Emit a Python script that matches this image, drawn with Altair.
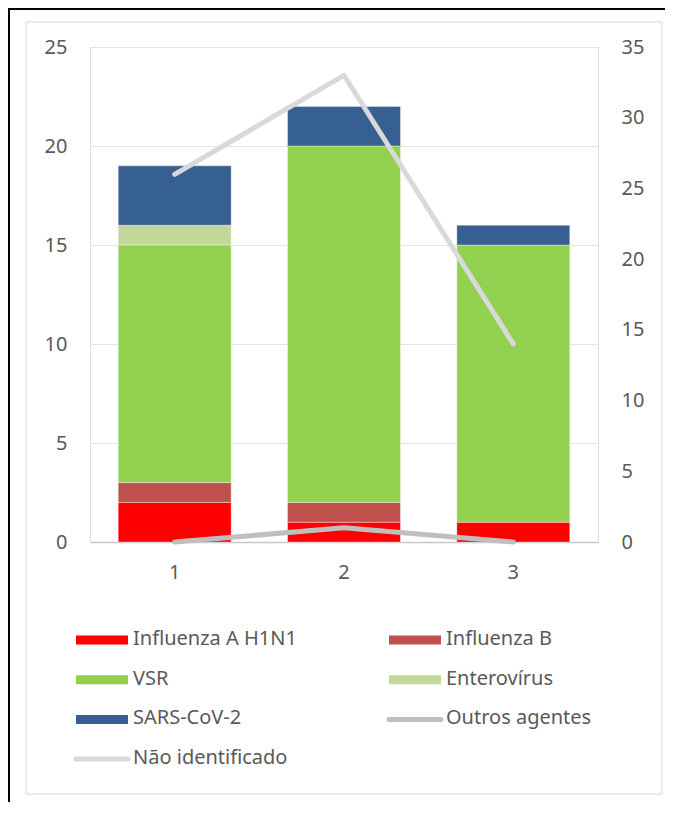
import altair as alt
import pandas as pd

# ---------------- data ----------------
periodos = ["1", "2", "3"]

series_barras = ["Influenza A H1N1", "Influenza B", "VSR", "Enterovírus", "SARS-CoV-2"]
influenza_a_h1n1 = [2, 1, 1]
influenza_b = [1, 1, 0]
vsr = [12, 18, 14]
enterovirus = [1, 0, 0]
sars_cov_2 = [3, 2, 1]

series_linhas = ["Outros agentes", "Não identificado"]
outros_agentes = [0, 1, 0]
nao_identificado = [26, 33, 14]

todas_series = series_barras + series_linhas
cores = ["#ff0000", "#c0504d", "#92d050", "#c4d79b", "#376092", "#bfbfbf", "#d9d9d9"]

ticks_esq = [0, 5, 10, 15, 20, 25]
ticks_dir = [0, 5, 10, 15, 20, 25, 30, 35]

# ---------------- tables ----------------
valores_barras = [influenza_a_h1n1, influenza_b, vsr, enterovirus, sars_cov_2]
rows = []
for k, (s, vals) in enumerate(zip(series_barras, valores_barras)):
    for p, v in zip(periodos, vals):
        rows.append({"periodo": p, "serie": s, "valor": v, "ordem": k})
df_barras = pd.DataFrame(rows)

valores_linhas = [outros_agentes, nao_identificado]
rows = []
for s, vals in zip(series_linhas, valores_linhas):
    for p, v in zip(periodos, vals):
        rows.append({"periodo": p, "serie": s, "valor": v})
df_linhas = pd.DataFrame(rows)

df_legenda = pd.DataFrame({
    "serie": todas_series,
    "idx": list(range(len(todas_series))),
    "tipo": ["barra" if s in series_barras else "linha" for s in todas_series],
})

TXT = "#595959"
FONT = "Noto Sans"
color_scale = alt.Scale(domain=todas_series, range=cores)

# ---------------- chart layers ----------------
bars = alt.Chart(df_barras).transform_filter("datum.valor > 0").mark_bar(
    stroke="white", strokeWidth=0.6, strokeOpacity=0.6
).encode(
    x=alt.X("periodo:N", sort=periodos, title=None,
            scale=alt.Scale(paddingInner=0.333, paddingOuter=0.1667),
            axis=alt.Axis(labelAngle=0, ticks=False, domain=True, domainColor="#c8c8c8",
                          domainWidth=1.5, labelPadding=20, labelFontSize=20,
                          labelColor=TXT, labelFont=FONT, grid=False)),
    y=alt.Y("valor:Q", stack="zero", title=None,
            scale=alt.Scale(domain=[0, 25], nice=False),
            axis=alt.Axis(values=ticks_esq, grid=True, gridColor="#e4e4e4", gridWidth=1,
                          domain=False, ticks=False, labelPadding=23, labelFontSize=20,
                          labelColor=TXT, labelFont=FONT)),
    color=alt.Color("serie:N", scale=color_scale, legend=None),
    order=alt.Order("ordem:Q", sort="ascending"),
)

lines = alt.Chart(df_linhas).mark_line(strokeWidth=5, strokeCap="round", strokeJoin="round").encode(
    x=alt.X("periodo:N", sort=periodos, title=None),
    y=alt.Y("valor:Q", title=None,
            scale=alt.Scale(domain=[0, 35], nice=False),
            axis=alt.Axis(orient="right", values=ticks_dir, grid=False, domain=False,
                          ticks=False, labelPadding=23, labelFontSize=20,
                          labelColor=TXT, labelFont=FONT)),
    color=alt.Color("serie:N", scale=color_scale, legend=None),
)

one = alt.Data(values=[{}])
inner_border = alt.Chart(one).mark_rect(fillOpacity=0, stroke="#d9d9d9", strokeWidth=1).encode(
    x=alt.value(-64), x2=alt.value(572), y=alt.value(-25), y2=alt.value(747)
)
# outer black frame: only its left and top edges fall inside the picture
black_frame = alt.Chart(one).mark_rect(fillOpacity=0, stroke="black", strokeWidth=2).encode(
    x=alt.value(-81), x2=alt.value(700), y=alt.value(-38), y2=alt.value(900)
)

leg_base = alt.Chart(df_legenda).transform_calculate(
    col="datum.idx % 2",
    row="floor(datum.idx / 2)",
).transform_calculate(
    lx="datum.col == 0 ? -14 : 299",
    ly="593 + datum.row * 39.7",
).transform_calculate(
    lx2="datum.lx + 52",
    ly1="datum.ly - 4.5",
    ly2="datum.ly + 4.5",
    tx="datum.lx + 57",
)

leg_rect = leg_base.transform_filter("datum.tipo == 'barra'").mark_rect().encode(
    x=alt.X("lx:Q", scale=None, axis=None),
    x2="lx2:Q",
    y=alt.Y("ly1:Q", scale=None, axis=None),
    y2="ly2:Q",
    color=alt.Color("serie:N", scale=color_scale, legend=None),
)
leg_line = leg_base.transform_filter("datum.tipo == 'linha'").mark_rule(
    strokeWidth=5, strokeCap="round"
).encode(
    x=alt.X("lx:Q", scale=None, axis=None),
    x2="lx2:Q",
    y=alt.Y("ly:Q", scale=None, axis=None),
    color=alt.Color("serie:N", scale=color_scale, legend=None),
)
leg_text = leg_base.mark_text(align="left", baseline="middle", fontSize=20, font=FONT,
                              color=TXT, dy=-1).encode(
    x=alt.X("tx:Q", scale=None, axis=None),
    y=alt.Y("ly:Q", scale=None, axis=None),
    text="serie:N",
)

chart = alt.layer(
    inner_border, black_frame, bars, lines, leg_rect, leg_line, leg_text
).resolve_scale(
    y="independent"
).properties(
    width=508, height=495,
    padding={"left": 82, "top": 39, "right": 67, "bottom": 260},
    autosize=alt.AutoSizeParams(type="none"),
    background="white",
).configure_view(strokeWidth=0).configure(font=FONT)

chart.save("out.html", embed_options={"renderer": "svg", "actions": False})
